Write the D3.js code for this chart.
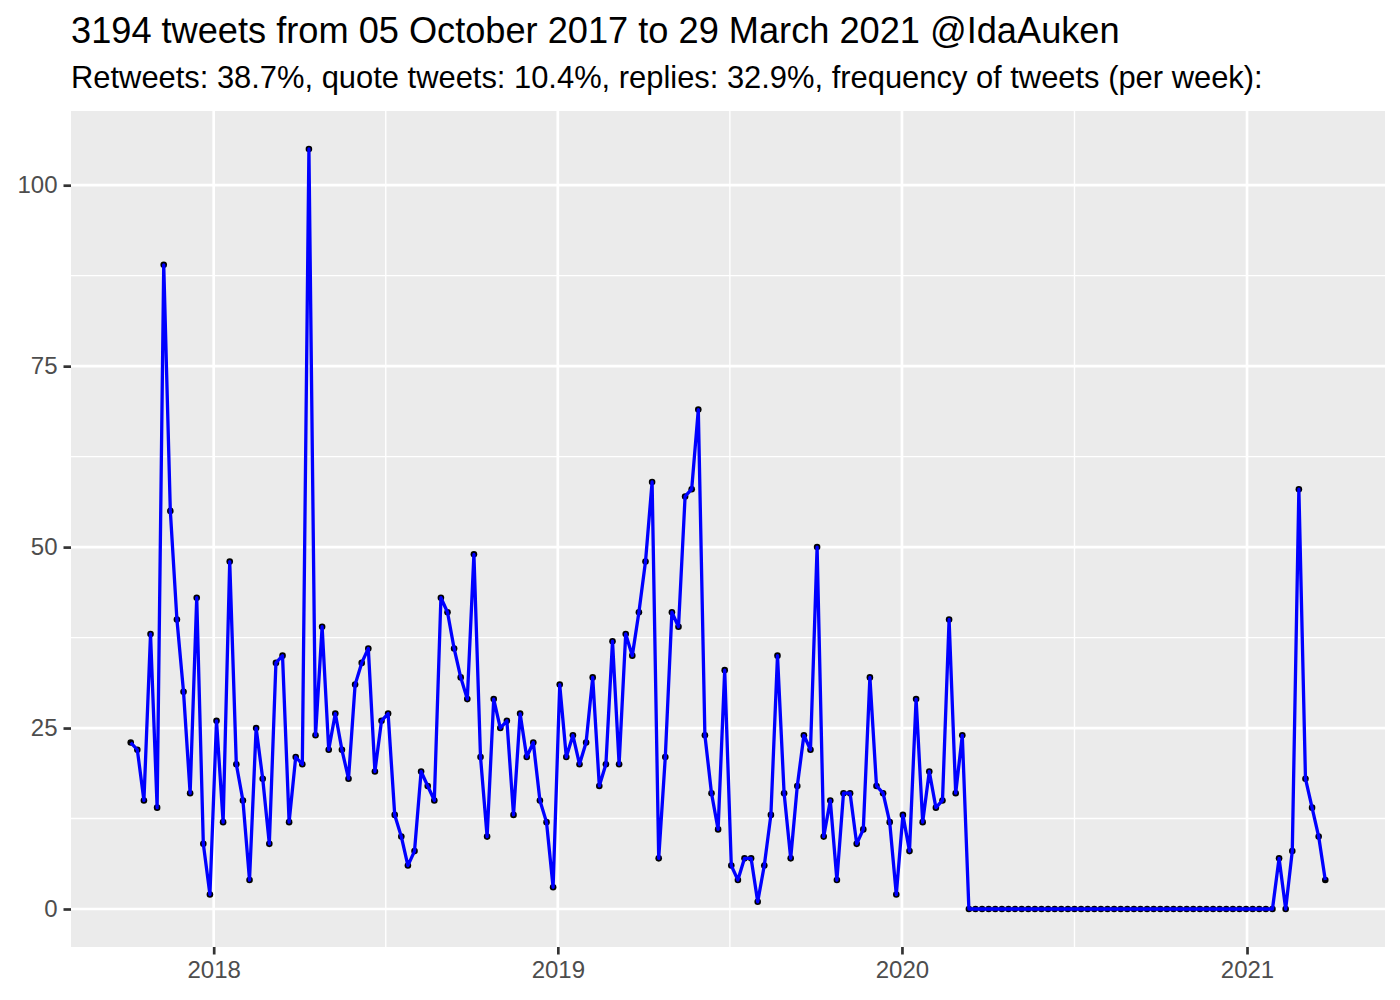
<!DOCTYPE html>
<html><head><meta charset="utf-8">
<script src="https://cdn.jsdelivr.net/npm/d3@7"></script>
<style>
body{margin:0;background:#fff}
svg{display:block}
text{font-family:"Liberation Sans",Arial,Helvetica,sans-serif}
</style>
</head><body>
<svg id="chart" width="1400" height="1000"></svg>
<script>
const titleText = "3194 tweets from 05 October 2017 to 29 March 2021 @IdaAuken";
const subtitleText = "Retweets: 38.7%, quote tweets: 10.4%, replies: 32.9%, frequency of tweets (per week):";
const firstWeek = "2017-10-05";
const tweetsPerWeek = [
  23,22,15,38,14,89,55,40,30,16,43,9,2,26,12,48,20,15,4,25,
  18,9,34,35,12,21,20,105,24,39,22,27,22,18,31,34,36,19,26,27,
  13,10,6,8,19,17,15,43,41,36,32,29,49,21,10,29,25,26,13,27,
  21,23,15,12,3,31,21,24,20,23,32,17,20,37,20,38,35,41,48,59,
  7,21,41,39,57,58,69,24,16,11,33,6,4,7,7,1,6,13,35,16,
  7,17,24,22,50,10,15,4,16,16,9,11,32,17,16,12,2,13,8,29,
  12,19,14,15,40,16,24,
  0,0,0,0,0,0,0,0,0,0,0,0,0,0,0,0,0,0,0,0,0,0,0,0,0,0,0,0,0,0,0,0,0,0,0,0,0,0,0,0,0,0,0,0,0,0,0,
  7,0,8,58,18,14,10,4
];
const yTicks = [0, 25, 50, 75, 100];
const yMinorTicks = [12.5, 37.5, 62.5, 87.5];
const xTickYears = ["2018-01-01", "2019-01-01", "2020-01-01", "2021-01-01"];

const parse = d3.utcParse("%Y-%m-%d");
const start = parse(firstWeek);
const data = tweetsPerWeek.map((v, i) => ({date: d3.utcDay.offset(start, 7 * i), value: v}));
const xTickDates = xTickYears.map(parse);
const xMinorDates = d3.pairs(xTickDates).map(([a, b]) => new Date((+a + +b) / 2));

const W = 1400, H = 1000;
const panel = {left: 71, right: 1385, top: 111, bottom: 947};

const [t0, t1] = d3.extent(data, d => d.date);
const span = t1 - t0;
const x = d3.scaleUtc()
  .domain([new Date(+t0 - 0.05 * span), new Date(+t1 + 0.05 * span)])
  .range([panel.left, panel.right]);
const yMax = d3.max(data, d => d.value);
const y = d3.scaleLinear()
  .domain([0 - 0.05 * yMax, yMax * 1.05])
  .range([panel.bottom, panel.top]);

const svg = d3.select("#chart");
svg.append("rect").attr("width", W).attr("height", H).attr("fill", "#fff");

svg.append("rect")
  .attr("x", panel.left).attr("y", panel.top)
  .attr("width", panel.right - panel.left).attr("height", panel.bottom - panel.top)
  .attr("fill", "#EBEBEB");

const grid = svg.append("g");
// minor grid
grid.selectAll(".ymin").data(yMinorTicks).join("line")
  .attr("x1", panel.left).attr("x2", panel.right)
  .attr("y1", d => y(d)).attr("y2", d => y(d))
  .attr("stroke", "#fff").attr("stroke-width", 1.35);
grid.selectAll(".xmin").data(xMinorDates).join("line")
  .attr("y1", panel.top).attr("y2", panel.bottom)
  .attr("x1", d => x(d)).attr("x2", d => x(d))
  .attr("stroke", "#fff").attr("stroke-width", 1.35);
// major grid
grid.selectAll(".ymaj").data(yTicks).join("line")
  .attr("x1", panel.left).attr("x2", panel.right)
  .attr("y1", d => y(d)).attr("y2", d => y(d))
  .attr("stroke", "#fff").attr("stroke-width", 2.7);
grid.selectAll(".xmaj").data(xTickDates).join("line")
  .attr("y1", panel.top).attr("y2", panel.bottom)
  .attr("x1", d => x(d)).attr("x2", d => x(d))
  .attr("stroke", "#fff").attr("stroke-width", 2.7);

// points
svg.append("g").selectAll("circle").data(data).join("circle")
  .attr("cx", d => x(d.date)).attr("cy", d => y(d.value))
  .attr("r", 3.3).attr("fill", "#000");

// line
svg.append("path").datum(data)
  .attr("fill", "none").attr("stroke", "#0000FF").attr("stroke-width", 3.3)
  .attr("stroke-linejoin", "round")
  .attr("d", d3.line().x(d => x(d.date)).y(d => y(d.value)));

// axes
const yAxis = svg.append("g").attr("transform", `translate(${panel.left},0)`)
  .call(d3.axisLeft(y).tickValues(yTicks).tickSize(7.5).tickPadding(6).tickFormat(d3.format("d")));
const xAxis = svg.append("g").attr("transform", `translate(0,${panel.bottom})`)
  .call(d3.axisBottom(x).tickValues(xTickDates).tickSize(7.5).tickPadding(6).tickFormat(d3.utcFormat("%Y")));
[yAxis, xAxis].forEach(g => {
  g.select(".domain").remove();
  g.selectAll(".tick line").attr("stroke", "#333333").attr("stroke-width", 2.7);
  g.selectAll(".tick text").attr("fill", "#4D4D4D").attr("font-size", 24)
    .attr("font-family", '"Liberation Sans",Arial,Helvetica,sans-serif');
});

// titles
svg.append("text").attr("x", panel.left).attr("y", 43)
  .attr("font-size", 36.2).attr("fill", "#000").text(titleText);
svg.append("text").attr("x", panel.left).attr("y", 88)
  .attr("font-size", 30.9).attr("fill", "#000").text(subtitleText);
</script>
</body></html>
